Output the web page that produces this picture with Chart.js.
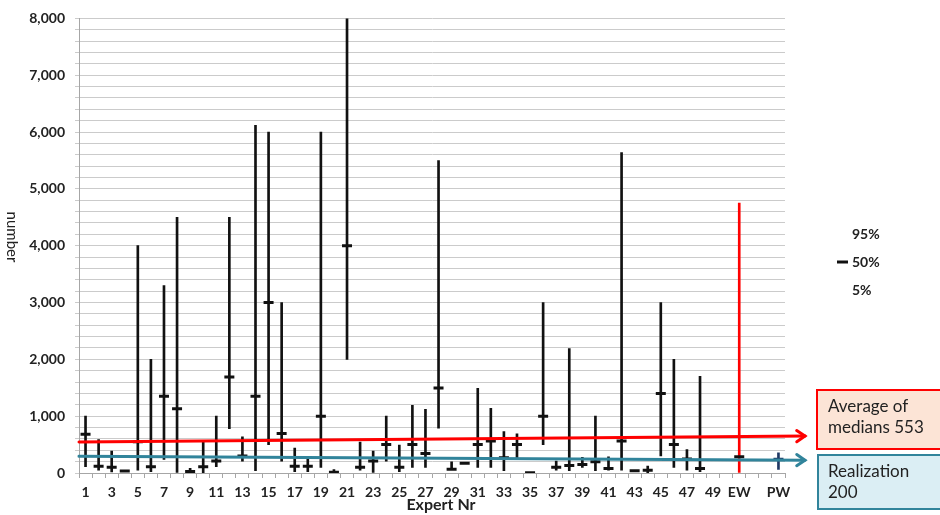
<!DOCTYPE html>
<html>
<head>
<meta charset="utf-8">
<script src="https://cdn.jsdelivr.net/npm/chart.js@4.4.1/dist/chart.umd.min.js"></script>
<style>
  html, body { margin: 0; padding: 0; background: #fff; }
  #wrap { width: 940px; height: 515px; }
</style>
</head>
<body>
<div id="wrap"><canvas id="chart" width="940" height="515"></canvas></div>
<script>
// Kategorien: Experten 1..49, dann Lücken, EW und PW
const categories = ['1','2','3','4','5','6','7','8','9','10','11','12','13','14','15','16','17','18','19','20',
  '21','22','23','24','25','26','27','28','29','30','31','32','33','34','35','36','37','38','39','40',
  '41','42','43','44','45','46','47','48','49','','EW','','','PW'];

// 5%-, 50%- und 95%-Werte je Kategorie (null = kein Wert)
const p5 = [110, 50, 20, 25, 50, 25, 240, 0, 0, 5, 110, 780, 210, 40, 500, 210, 25, 25, 100, 0,
  2000, 50, 10, 210, 25, 100, 100, 790, 60, 165, 100, 100, 40, 270, 0, 500, 50, 40, 100, 40,
  50, 50, 35, 5, 300, 100, 50, 25, null, null, 0, null, null, 65];
const p50 = [680, 120, 100, 35, 550, 110, 1350, 1130, 25, 110, 210, 1690, 300, 1350, 3000, 695, 120, 120, 1000, 15,
  4000, 100, 210, 500, 100, 500, 345, 1495, 65, 170, 500, 565, 270, 500, 5, 1000, 100, 130, 150, 200,
  80, 565, 40, 50, 1400, 500, 245, 80, null, null, 285, null, null, 240];
const p95 = [1000, 590, 385, 40, 4000, 2000, 3300, 4500, 80, 545, 1000, 4500, 635, 6120, 6000, 3000, 440, 245, 6000, 60,
  8000, 545, 385, 1000, 490, 1190, 1120, 5500, 195, 175, 1490, 1140, 730, 690, 10, 3000, 210, 2190, 275, 1000,
  285, 5640, 45, 120, 3000, 2000, 410, 1700, null, null, 4750, null, null, 355];

// Pfeile: Wert an der y-Achse und an der Pfeilspitze
const avgArrow = [545, 650];
const realArrow = [295, 226];
const avgText = ['Average of', 'medians 553'];
const realText = ['Realization', '200'];
const legendText = ['95%', '50%', '5%'];

// Farben je Kategorie
function colorFor(i) {
    if (categories[i] === 'EW') return '#ff0000';
    if (categories[i] === 'PW') return '#1f3864';
    return '#111111';
}
const barColors = categories.map((c, i) => colorFor(i));
const dashColors = categories.map((c, i) => categories[i] === 'PW' ? '#1f3864' : '#111111');

Chart.defaults.font.family = 'Lato, "Liberation Sans", sans-serif';
Chart.defaults.color = '#222';

function drawArrow(ctx, x0, y0, x1, y1, color) {
    ctx.save();
    ctx.strokeStyle = color;
    ctx.lineWidth = 3;
    ctx.lineCap = 'round';
    ctx.beginPath();
    ctx.moveTo(x0, y0);
    ctx.lineTo(x1, y1);
    ctx.stroke();
    const a = Math.atan2(y1 - y0, x1 - x0);
    const len = 10;
    ctx.beginPath();
    ctx.moveTo(x1 - len * Math.cos(a - 0.6), y1 - len * Math.sin(a - 0.6));
    ctx.lineTo(x1, y1);
    ctx.lineTo(x1 - len * Math.cos(a + 0.6), y1 - len * Math.sin(a + 0.6));
    ctx.stroke();
    ctx.restore();
}

const extras = {
    id: 'extras',
    afterDatasetsDraw(chart) {
        const ctx = chart.ctx;
        const y = chart.scales.y;
        const area = chart.chartArea;
        const tipX = area.right + 20;

        // Pfeile für Mittelwert der Mediane und Realisierung
        drawArrow(ctx, area.left, y.getPixelForValue(avgArrow[0]), tipX, y.getPixelForValue(avgArrow[1]), '#ff0000');
        drawArrow(ctx, area.left, y.getPixelForValue(realArrow[0]), tipX, y.getPixelForValue(realArrow[1]), '#31849b');

        // Textkästen
        ctx.save();
        ctx.lineWidth = 2;
        ctx.fillStyle = '#fce4d6';
        ctx.strokeStyle = '#ff0000';
        ctx.fillRect(817, 390, 130, 59);
        ctx.strokeRect(817, 390, 130, 59);
        ctx.fillStyle = '#dbeef4';
        ctx.strokeStyle = '#31849b';
        ctx.fillRect(818, 455, 130, 54);
        ctx.strokeRect(818, 455, 130, 54);

        ctx.fillStyle = '#222';
        ctx.font = '17px Lato';
        ctx.textBaseline = 'middle';
        ctx.textAlign = 'left';
        ctx.fillText(avgText[0], 828, 407);
        ctx.fillText(avgText[1], 828, 428);
        ctx.fillText(realText[0], 828, 472);
        ctx.fillText(realText[1], 828, 493);

        // Legende
        ctx.font = 'bold 14px Lato';
        ctx.fillText(legendText[0], 852, 234);
        ctx.fillText(legendText[1], 852, 262);
        ctx.fillText(legendText[2], 852, 290);
        ctx.strokeStyle = '#111';
        ctx.lineWidth = 3;
        ctx.beginPath();
        ctx.moveTo(837, 262);
        ctx.lineTo(848, 262);
        ctx.stroke();

        // Achsentitel
        ctx.font = 'bold 16px Lato';
        ctx.textAlign = 'center';
        ctx.fillText('Expert Nr', 441, 505);
        ctx.translate(12, 237);
        ctx.rotate(Math.PI / 2);
        ctx.font = '15px Lato';
        ctx.fillText('number', 0, 0);
        ctx.restore();
    }
};

const ctx = document.getElementById('chart').getContext('2d');
const chart = new Chart(ctx, {
    data: {
        labels: categories,
        datasets: [
            {
                type: 'bar',
                data: p5.map((v, i) => v === null ? null : [v, p95[i]]),
                backgroundColor: barColors,
                barThickness: 2,
                borderWidth: 0,
                order: 2
            },
            {
                type: 'line',
                data: p50,
                showLine: false,
                pointStyle: 'line',
                pointRadius: 5,
                pointBorderWidth: 3,
                pointBorderColor: dashColors,
                pointBackgroundColor: dashColors,
                order: 1
            }
        ]
    },
    options: {
        responsive: false,
        animation: false,
        layout: { padding: { top: 14, right: 155, left: 0, bottom: 0 } },
        plugins: { legend: { display: false }, tooltip: { enabled: false } },
        scales: {
            x: {
                afterFit(scale) { scale.height = 42; },
                grid: { drawOnChartArea: false, drawTicks: true, tickLength: 5, color: '#a6a6a6', offset: true },
                border: { color: '#a6a6a6' },
                ticks: {
                    autoSkip: false,
                    maxRotation: 0,
                    padding: 6,
                    font: { size: 14, weight: 'bold' },
                    callback(val, idx) {
                        const c = categories[idx];
                        const n = parseInt(c, 10);
                        if (isNaN(n)) return c;
                        return n % 2 === 1 ? c : '';
                    }
                }
            },
            y: {
                min: 0,
                max: 8000,
                afterFit(scale) { scale.width = 79; },
                grid: { color: '#cbcbcb', tickLength: 4 },
                border: { color: '#a6a6a6' },
                ticks: {
                    stepSize: 200,
                    autoSkip: false,
                    padding: 10,
                    font: { size: 14, weight: 'bold' },
                    callback(v) { return v % 1000 === 0 ? v.toLocaleString('en-US') : ''; }
                }
            }
        }
    },
    plugins: [extras]
});
</script>
</body>
</html>
